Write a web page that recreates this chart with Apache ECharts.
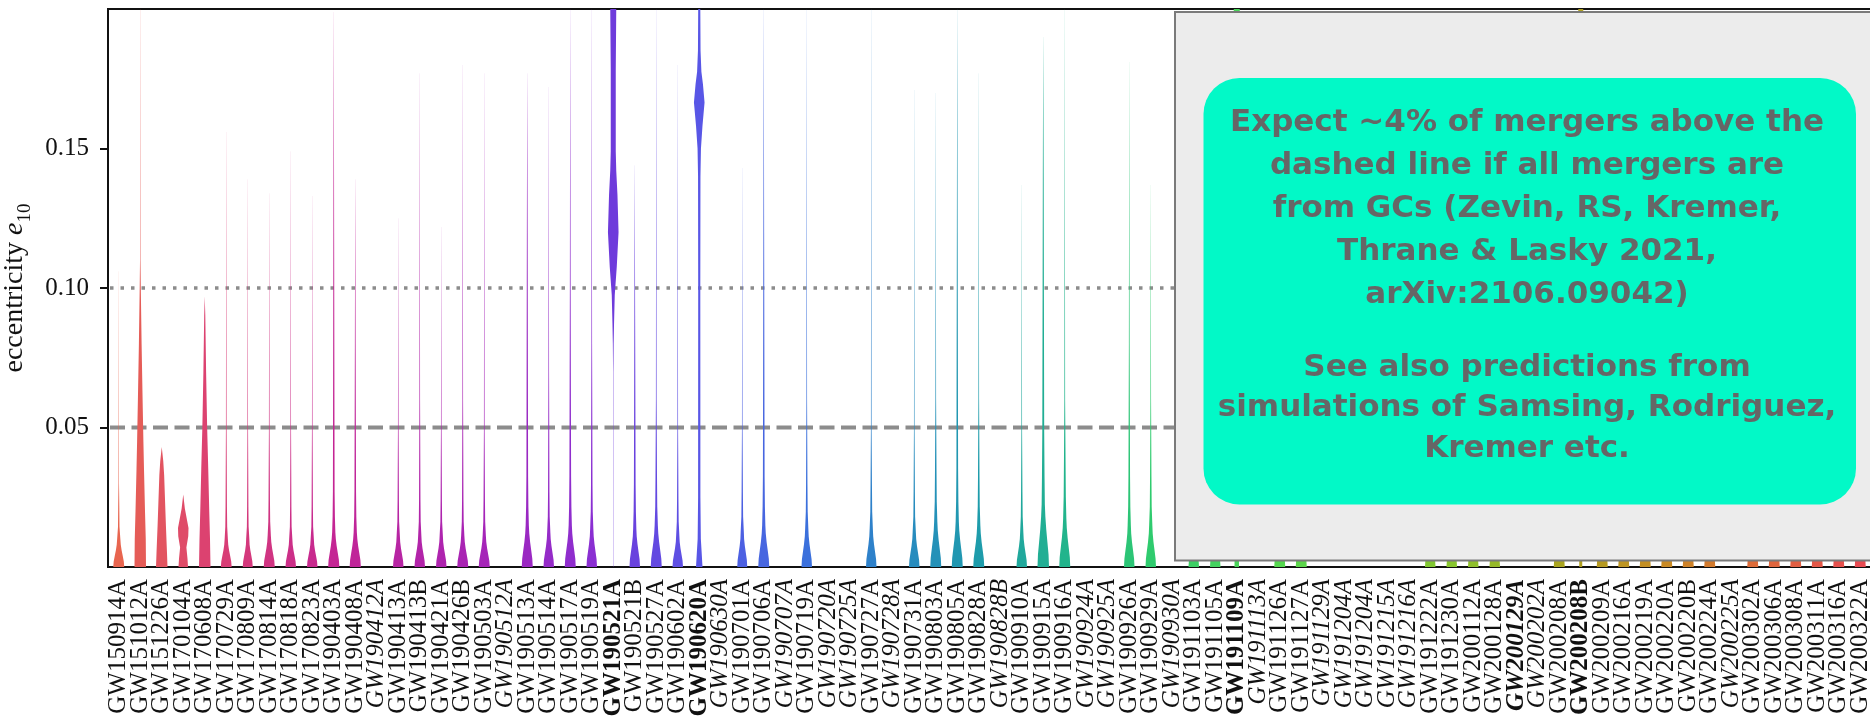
<!DOCTYPE html>
<html><head><meta charset="utf-8">
<script src="https://cdn.jsdelivr.net/npm/echarts@6/dist/echarts.min.js"></script>
<style>html,body{margin:0;padding:0;background:#fff}#c{width:1870px;height:719px}</style>
</head><body><div id="c"></div>
<script>
// ---------- data ----------
const events = [
'GW150914A','GW151012A','GW151226A','GW170104A','GW170608A','GW170729A','GW170809A','GW170814A','GW170818A','GW170823A',
'GW190403A','GW190408A','GW190412A','GW190413A','GW190413B','GW190421A','GW190426B','GW190503A','GW190512A','GW190513A',
'GW190514A','GW190517A','GW190519A','GW190521A','GW190521B','GW190527A','GW190602A','GW190620A','GW190630A','GW190701A',
'GW190706A','GW190707A','GW190719A','GW190720A','GW190725A','GW190727A','GW190728A','GW190731A','GW190803A','GW190805A',
'GW190828A','GW190828B','GW190910A','GW190915A','GW190916A','GW190924A','GW190925A','GW190926A','GW190929A','GW190930A',
'GW191103A','GW191105A','GW191109A','GW191113A','GW191126A','GW191127A','GW191129A','GW191204A','GW191204A','GW191215A',
'GW191216A','GW191222A','GW191230A','GW200112A','GW200128A','GW200129A','GW200202A','GW200208A','GW200208B','GW200209A',
'GW200216A','GW200219A','GW200220A','GW200220B','GW200224A','GW200225A','GW200302A','GW200306A','GW200308A','GW200311A',
'GW200316A','GW200322A'];
const italicEvents = ['GW190412A','GW190512A','GW190630A','GW190707A','GW190720A','GW190725A','GW190728A','GW190828B',
'GW190924A','GW190925A','GW190930A','GW191113A','GW191129A','GW191204A','GW191215A','GW191216A','GW200202A','GW200225A'];
const boldEvents = ['GW190521A','GW190620A','GW191109A','GW200208B'];
const boldItalicEvents = ['GW200129A'];

// regular violins: full width at e=0 (px at reference scale), e where body narrows,
// stem width, top of visible stem, top of faint tail (null = no violin)
const baseWidth = [11,null,null,null,null,10.8,10,11,10.5,10.5, 11.2,11.2,null,10.5,10.5,10.5,11,11,null,11,
 10.5,11,10.5,null,10.5,11,10.5,null,null,10, 11,null,10.5,null,null,10.5,null,10.5,11,11,
 11,null,10.5,11.5,11,null,null,10.5,10.5,null, 10.5,10.5,null,null,11,11,null,null,null,null,
 null,10.5,10.5,10.5,10.5,null,null,11,null,11, 11,11,11,11,11,null,11,11,11,11, 11,11];
const neckE = [.008,0,0,0,0,.008,.008,.009,.008,.008, .010,.010,0,.009,.009,.009,.009,.009,0,.012,
 .010,.012,.011,0,.011,.012,.009,0,0,.010, .012,0,.011,0,0,.011,0,.010,.013,.013,
 .012,0,.010,.018,.014,0,0,.012,.012,0, .010,.010,0,0,.011,.011,0,0,0,0,
 0,.011,.011,.011,.011,0,0,.011,0,.011, .011,.011,.011,.011,.011,0,.011,.011,.011,.011, .011,.011];
const stemWidth = [1.1,0,0,0,0,1.4,1.3,1.4,1.3,1.3, 1.7,1.6,0,1.3,1.4,1.3,1.4,1.4,0,1.7,
 1.4,1.7,1.5,0,1.7,1.5,1.4,0,0,1.3, 1.7,0,1.4,0,0,1.4,0,1.3,1.5,1.7,
 1.5,0,1.4,1.9,1.6,0,0,1.6,1.4,0, 1.3,1.3,0,0,1.4,1.4,0,0,0,0,
 0,1.4,1.4,1.4,1.4,0,0,1.4,0,1.4, 1.4,1.4,1.4,1.4,1.4,0,1.4,1.4,1.4,1.4, 1.4,1.4];
const stemTop = [.03,0,0,0,0,.05,.05,.05,.05,.05, .12,.08,0,.05,.06,.05,.06,.05,0,.12,
 .07,.10,.08,0,.09,.06,.05,0,0,.05, .12,0,.06,0,0,.05,0,.05,.06,.12,
 .06,0,.05,.14,.06,0,0,.08,.06,0, .05,.05,0,0,.06,.06,0,0,0,0,
 0,.06,.06,.06,.06,0,0,.06,0,.06, .06,.06,.06,.06,.06,0,.06,.06,.06,.06, .06,.06];
const tailTop = [.106,0,0,0,0,.156,.139,.134,.149,.133, .199,.139,0,.125,.177,.122,.18,.177,0,.177,
 .172,.2,.2,0,.144,.2,.18,0,0,.143, .2,0,.2,0,0,.2,0,.171,.17,.2,
 .177,0,.137,.19,.2,0,0,.181,.137,0, .15,.15,0,0,.15,.15,0,0,0,0,
 0,.15,.15,.15,.15,0,0,.15,0,.15, .15,.15,.15,.15,.15,0,.15,.15,.15,.15, .15,.15];

// violins with distinctive shapes: [e, full width px]
const shapeGW151012A = [[0,11.5],[0.01,11],[0.02,9.5],[0.035,7.5],[0.045,6.3],[0.06,4.7],[0.08,2.7],[0.1,1.1],[0.11,0.45],[0.2,0.1]];
const shapeGW151226A = [[0,11.5],[0.005,10.5],[0.015,8.3],[0.033,4.8],[0.038,3],[0.043,0]];
const shapeGW170104A = [[0,9.5],[0.003,8.5],[0.007,6.3],[0.011,10],[0.014,10.5],[0.017,7.3],[0.021,3.2],[0.026,0]];
const shapeGW170608A = [[0,11.5],[0.01,10.5],[0.02,9],[0.035,7],[0.05,4.8],[0.07,2.7],[0.09,1.1],[0.097,0]];
const shapeGW190521A = [[0,0.25],[0.07,0.35],[0.08,0.8],[0.0875,1.6],[0.0975,3],[0.1075,7],[0.12,10.6],[0.1335,8.4],[0.142,6],[0.149,5],[0.178,5],[0.2,6]];
const shapeGW190620A = [[0,6.5],[0.004,5.2],[0.01,3.2],[0.025,2.3],[0.1,2.1],[0.14,2.4],[0.15,3.4],[0.158,6.4],[0.1665,10.6],[0.173,7.4],[0.1775,4.3],[0.185,2.6],[0.2,2.1]];
const shapeGW191109A = [[0,4.5],[0.03,3],[0.1,5],[0.15,8],[0.2,6]];
const shapeGW200208B = [[0,3],[0.05,2.5],[0.15,6],[0.2,5]];
const specialIndex = [1,2,3,4,23,27,52,68];
const specialShape = [shapeGW151012A,shapeGW151226A,shapeGW170104A,shapeGW170608A,shapeGW190521A,shapeGW190620A,shapeGW191109A,shapeGW200208B];

const refLevels = [0.10, 0.05];
const refStyles = ['dotted','dashed'];
const yTicks = [0.05, 0.10, 0.15];

// ---------- style ----------
const colorAnchors = [[0,'#e8654f'],[4,'#dc4270'],[10,'#c42594'],[17,'#a524b8'],[22,'#8a2fd2'],[23,'#6e3bdb'],
 [27,'#5856e6'],[32,'#3b70dc'],[36,'#2a86c4'],[40,'#1e9cab'],[44,'#22b48c'],[48,'#2fcb6e'],[54,'#56d84f'],
 [62,'#88c62e'],[67,'#aaa520'],[72,'#c98a24'],[76,'#dd6b38'],[81,'#e84b52']];
function hex2rgb(h){return [1,3,5].map(k=>parseInt(h.substr(k,2),16));}
function colorFor(i){
  for(let a=0;a<colorAnchors.length-1;a++){
    const [i0,c0]=colorAnchors[a],[i1,c1]=colorAnchors[a+1];
    if(i>=i0&&i<=i1){const t=(i-i0)/(i1-i0);const r0=hex2rgb(c0),r1=hex2rgb(c1);
      return 'rgb('+r0.map((v,k)=>Math.round(v+(r1[k]-v)*t)).join(',')+')';}
  }
  return colorAnchors[colorAnchors.length-1][1];
}
const flask = [[0,1],[0.25,0.92],[0.5,0.72],[0.75,0.52],[1.0,0.37]];
function knotsFor(i){
  const s = specialIndex.indexOf(i);
  if(s>=0) return specialShape[s];
  const W = baseWidth[i]; if(W==null) return null;
  const n = neckE[i], sw = stemWidth[i];
  const k = flask.map(([f,m])=>[f*n,m*W]);
  k.push([1.25*n,3.2],[1.8*n,sw*1.35],[2.7*n,sw],[stemTop[i],sw*0.45],[tailTop[i],0.06]);
  return k;
}

const violinData = events.map((_,i)=>[i]).filter(d=>knotsFor(d[0]));

function labelFmt(v){
  if(boldItalicEvents.includes(v)) return '{bi|'+v+'}';
  if(boldEvents.includes(v)) return '{b|'+v+'}';
  if(italicEvents.includes(v)) return '{it|'+v+'}';
  return '{n|'+v+'}';
}
const serif = 'Liberation Serif';
const boxFont = 'bold 31px "DejaVu Sans"';
const chart = echarts.init(document.getElementById('c'), null, {renderer:'canvas'});
chart.setOption({
  animation:false,
  backgroundColor:'#fff',
  grid:{left:108, right:-1, top:9, bottom:152, outerBoundsMode:'none', containLabel:false,
    show:true, borderColor:'#111', borderWidth:2, backgroundColor:'transparent'},
  xAxis:{type:'category', data:events, boundaryGap:true,
    axisLine:{lineStyle:{color:'#111', width:2}},
    axisTick:{alignWithLabel:true, length:7, lineStyle:{color:'#111', width:2}},
    axisLabel:{interval:0, rotate:90, margin:12, formatter:labelFmt,
      rich:{n:{fontFamily:serif,fontSize:25,color:'#111'},
            it:{fontFamily:serif,fontSize:25,fontStyle:'italic',color:'#111'},
            b:{fontFamily:serif,fontSize:25,fontWeight:'bold',color:'#111'},
            bi:{fontFamily:serif,fontSize:25,fontWeight:'bold',fontStyle:'italic',color:'#111'}}},
    splitLine:{show:false}},
  yAxis:{type:'value', min:0, max:0.2,
    name:'eccentricity {i|e}{s|10}', nameLocation:'middle', nameGap:71, nameRotate:90,
    nameTextStyle:{fontFamily:serif, fontSize:28, color:'#111', lineHeight:40,
      rich:{i:{fontFamily:serif,fontSize:28,fontStyle:'italic',color:'#111',lineHeight:40},
            s:{fontFamily:serif,fontSize:19,color:'#111',verticalAlign:'bottom',lineHeight:40}}},
    axisLine:{show:true, lineStyle:{color:'#111', width:2}},
    axisTick:{show:true, length:8, customValues:yTicks, lineStyle:{color:'#111', width:2}},
    axisLabel:{customValues:yTicks, formatter:v=>v.toFixed(2), fontFamily:serif, fontSize:25, color:'#111', margin:19},
    splitLine:{show:false}},
  series:[
    {type:'custom', z:1, silent:true, data:refLevels.map((v,k)=>[0,v,k]),
      renderItem:function(params, api){
        const cs = params.coordSys; const y = api.coord([0, api.value(1)])[1];
        const dotted = refStyles[api.value(2)]==='dotted';
        return {type:'line', shape:{x1:cs.x+2, y1:y, x2:cs.x+cs.width, y2:y},
          style:{stroke:'#8c8c8c', lineWidth:dotted?3.5:4, lineDash:dotted?[3.5,7]:[15,6.5], lineCap:'butt'}};
      }},
    {type:'custom', z:2, silent:true, data:violinData, clip:true,
      renderItem:function(params, api){
        const i = api.value(0); const knots = knotsFor(i); if(!knots) return null;
        const k = api.size([1,0])[0]/21.5;
        const R=[], L=[];
        knots.forEach(([e,w])=>{const p=api.coord([i,e]); R.push([p[0]+w*k/2,p[1]]); L.push([p[0]-w*k/2,p[1]]);});
        return {type:'polygon', shape:{points:R.concat(L.reverse())}, style:{fill:colorFor(i)}};
      }}
  ],
  graphic:[
    {type:'rect', z:100, shape:{x:1175, y:12, width:720, height:548.5}, style:{fill:'#ececec', stroke:'#7a7a7a', lineWidth:2}},
    {type:'rect', z:101, shape:{x:1203.5, y:78, width:652.5, height:426.5, r:36}, style:{fill:'#02f9c7'}},
    {type:'text', z:102, x:1527, y:209, style:{text:'Expect ~4% of mergers above the\ndashed line if all mergers are\nfrom GCs (Zevin, RS, Kremer,\nThrane & Lasky 2021,\narXiv:2106.09042)',
      font:boxFont, fill:'#666', align:'center', verticalAlign:'middle', lineHeight:43}},
    {type:'text', z:102, x:1527, y:408, style:{text:'See also predictions from\nsimulations of Samsing, Rodriguez,\nKremer etc.',
      font:boxFont, fill:'#666', align:'center', verticalAlign:'middle', lineHeight:40.5}}
  ]
});
</script></body></html>
